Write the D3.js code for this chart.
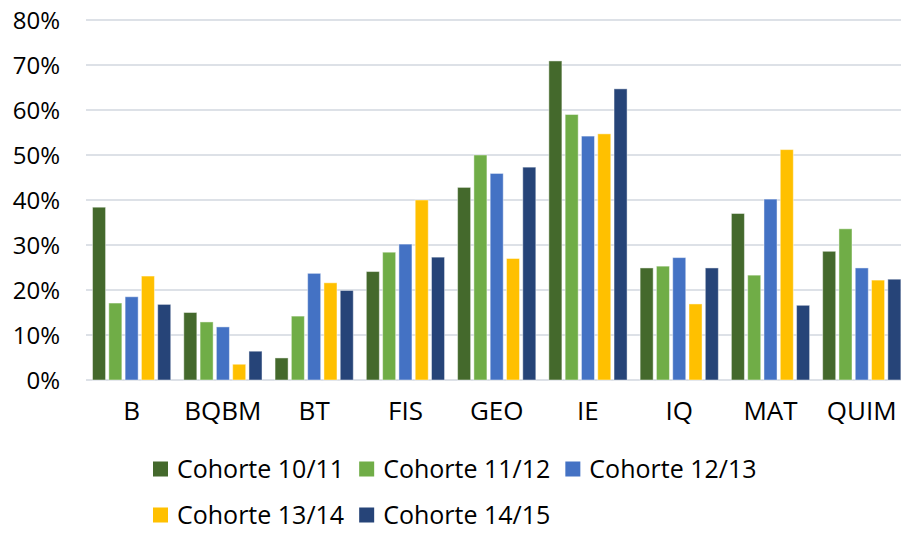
<!DOCTYPE html>
<html>
  <head>
    <title></title>
    <script src="https://cdnjs.cloudflare.com/ajax/libs/d3/7.8.5/d3.min.js"></script>
    <style>
      body { margin: 0; background: #fff; }
      text { font-family: "Open Sans", sans-serif; fill: #000; }
    </style>
  </head>
  <body>
    <script type="text/javascript">

    let categories = ["B", "BQBM", "BT", "FIS", "GEO", "IE", "IQ", "MAT", "QUIM"]
    let series = ["Cohorte 10/11", "Cohorte 11/12", "Cohorte 12/13", "Cohorte 13/14", "Cohorte 14/15"]
    let colors = ["#44692c", "#70ad47", "#4472c4", "#ffc000", "#264478"]
    let yTicks = [0, 0.1, 0.2, 0.3, 0.4, 0.5, 0.6, 0.7, 0.8]

    // one array per cohort, in the order of categories
    let c1011 = [0.384, 0.150, 0.049, 0.241, 0.428, 0.709, 0.249, 0.370, 0.286]
    let c1112 = [0.171, 0.129, 0.142, 0.284, 0.500, 0.590, 0.253, 0.233, 0.336]
    let c1213 = [0.185, 0.118, 0.237, 0.302, 0.459, 0.542, 0.272, 0.402, 0.249]
    let c1314 = [0.231, 0.035, 0.216, 0.400, 0.270, 0.547, 0.169, 0.512, 0.222]
    let c1415 = [0.168, 0.064, 0.199, 0.273, 0.473, 0.647, 0.249, 0.166, 0.224]
    let values = [c1011, c1112, c1213, c1314, c1415]

    let outerWidth = 901;
    let outerHeight = 533;
    let plot = { left: 86, right: 907.4, top: 20, bottom: 380 }

    let svg = d3.select("body").append("svg")
      .attr("width", outerWidth)
      .attr("height", outerHeight)

    let x0 = d3.scaleBand().domain(categories).range([plot.left, plot.right])
      .paddingInner(0.143).paddingOuter(0.0715);
    let x1 = d3.scaleBand().domain(series).range([0, x0.bandwidth()])
      .paddingInner(0.2).paddingOuter(0);
    let y = d3.scaleLinear().domain([0, 0.8]).range([plot.bottom, plot.top]);

    // gridlines
    svg.append("g").selectAll("line").data(yTicks).join("line")
      .attr("x1", plot.left).attr("x2", outerWidth)
      .attr("y1", d => y(d)).attr("y2", d => y(d))
      .attr("stroke", "#dde1e7").attr("stroke-width", 2);

    // y axis labels
    let yAxis = d3.axisLeft(y).tickValues(yTicks).tickFormat(d3.format(".0%")).tickSize(0).tickPadding(0);
    svg.append("g").attr("transform", "translate(60,1)").call(yAxis)
      .call(g => g.select(".domain").remove())
      .selectAll("text").style("font-size", "24px").attr("font-family", null).attr("fill", "#000");

    // bars
    let groups = svg.append("g").selectAll("g").data(categories).join("g")
      .attr("transform", d => "translate(" + x0(d) + ",0)");

    groups.selectAll("rect")
      .data((d, i) => series.map((s, j) => ({ s: s, v: values[j][i], c: colors[j] })))
      .join("rect")
      .attr("x", d => x1(d.s))
      .attr("width", x1.bandwidth())
      .attr("y", d => y(d.v))
      .attr("height", d => y(0) - y(d.v))
      .attr("fill", d => d.c)
      .attr("stroke", "#ffffff").attr("stroke-opacity", 0.45).attr("stroke-width", 1);

    // x axis labels
    let xAxis = d3.axisBottom(x0).tickSize(0).tickPadding(0);
    svg.append("g").attr("transform", "translate(0,402)").call(xAxis)
      .call(g => g.select(".domain").remove())
      .selectAll("text").style("font-size", "26px").attr("font-family", null).attr("fill", "#000");

    // legend
    let legendRows = [[0, 1, 2], [3, 4]];
    let rowY = [469, 515];
    legendRows.forEach((row, r) => {
      let cx = 153;
      row.forEach(j => {
        let item = svg.append("g");
        item.append("rect").attr("x", cx).attr("y", rowY[r] - 7.5)
          .attr("width", 15).attr("height", 15).attr("fill", colors[j]);
        let t = item.append("text").attr("x", cx + 24).attr("y", rowY[r])
          .attr("dy", "0.35em").style("font-size", "25px").text(series[j]);
        cx += 24 + t.node().getComputedTextLength() + 15;
      });
    });

    </script>
  </body>
</html>
